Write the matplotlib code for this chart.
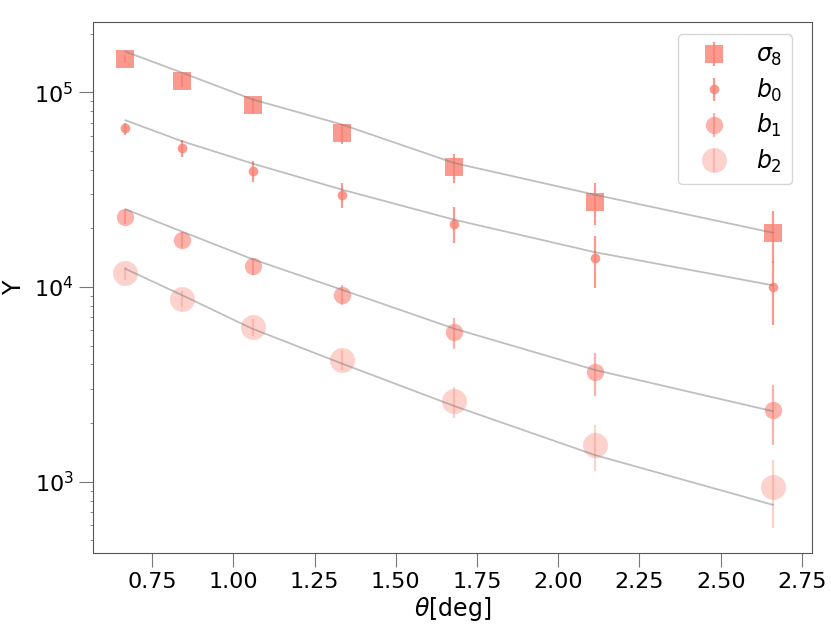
import numpy as np
import matplotlib
matplotlib.use("Agg")
import matplotlib.pyplot as plt

# angular bins
theta = [0.668, 0.841, 1.059, 1.333, 1.679, 2.113, 2.661]

# measured points
sigma8_y = [1.49e5, 1.15e5, 8.58e4, 6.18e4, 4.14e4, 2.75e4, 1.89e4]
b0_y = [6.53e4, 5.16e4, 3.95e4, 2.98e4, 2.12e4, 1.41e4, 1.00e4]
b1_y = [2.29e4, 1.75e4, 1.275e4, 9.14e3, 5.89e3, 3.68e3, 2.33e3]
b2_y = [1.175e4, 8.72e3, 6.2e3, 4.24e3, 2.59e3, 1.545e3, 935]

# relative errors
sigma8_rel = [0.05, 0.07, 0.09, 0.12, 0.17, 0.24, 0.30]
b0_rel = [0.07, 0.10, 0.125, 0.15, 0.21, 0.30, 0.36]
b1_rel = [0.08, 0.095, 0.10, 0.115, 0.18, 0.25, 0.34]
b2_rel = [0.08, 0.09, 0.10, 0.12, 0.18, 0.27, 0.38]

# model curves
sigma8_model = [1.62e5, 1.265e5, 9.2e4, 6.85e4, 4.34e4, 2.98e4, 1.90e4]
b0_model = [7.19e4, 5.62e4, 4.31e4, 3.17e4, 2.22e4, 1.51e4, 1.02e4]
b1_model = [2.51e4, 1.93e4, 1.39e4, 9.7e3, 6.12e3, 3.75e3, 2.30e3]
b2_model = [1.24e4, 9.1e3, 6.1e3, 4.05e3, 2.45e3, 1.37e3, 760]

labels = [r"$\sigma_8$", r"$b_0$", r"$b_1$", r"$b_2$"]

plt.rcParams['font.family'] = ['DejaVu Sans']
fig = plt.figure(figsize=(8.31, 6.29), dpi=100)
ax = fig.add_axes([93/831, 1-553/629, (812-93)/831, (553-22)/629])

color = 'salmon'
series = [
    (sigma8_y, sigma8_rel, sigma8_model, 's', 13.5, 0.8),
    (b0_y, b0_rel, b0_model, 'o', 7, 0.8),
    (b1_y, b1_rel, b1_model, 'o', 12.5, 0.6),
    (b2_y, b2_rel, b2_model, 'o', 18, 0.35),
]
x = np.array(theta)
for (y, rel, model, mk, ms, al), lab in zip(series, labels):
    y = np.array(y)
    err = y * np.array(rel)
    ax.errorbar(x, y, yerr=err, fmt=mk, color=color, ms=ms, alpha=al,
                elinewidth=1.6, capsize=0, mew=0, label=lab, zorder=2)
    ax.plot(x, model, color='gray', alpha=0.5, lw=1.3, zorder=3)

ax.set_yscale('log')
ax.set_ylim(430, 2.3e5)
ax.set_xlim(0.568, 2.781)
ax.set_xticks([0.75, 1.0, 1.25, 1.5, 1.75, 2.0, 2.25, 2.5, 2.75])
ax.tick_params(axis='both', which='major', labelsize=16, length=10, pad=4,
               color='#777777')
ax.tick_params(axis='both', which='minor', length=2.5, color='#777777')
for s in ax.spines.values():
    s.set_color('#555555')
ax.set_xlabel(r"$\theta$[deg]", fontsize=17, labelpad=2)
ax.set_ylabel("Y", fontsize=17, labelpad=6)
leg = ax.legend(loc='upper right', bbox_to_anchor=(1 - 8/719, 1),
                fontsize=17, handletextpad=0.7, handlelength=2.2,
                labelspacing=0.35, borderpad=0.4)
fig.savefig("out.png", dpi=100)
